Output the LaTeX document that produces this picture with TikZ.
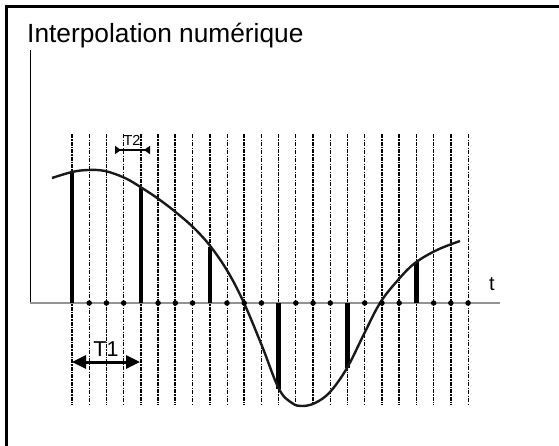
\documentclass[tikz,border=0pt]{standalone}
\usepackage{fontspec}
\setmainfont{Liberation Sans}
\usetikzlibrary{arrows.meta}
\begin{document}
\begin{tikzpicture}[x=1pt,y=-1pt,
  framestyle/.style={line width=3pt,black},
  heavyd/.style={line width=1.7pt,dash pattern=on 4pt off 1pt on 1.5pt off 1pt},
  thind/.style={line width=0.9pt,dash pattern=on 4pt off 1.5pt on 1pt off 1.5pt},
  axisline/.style={line width=1.6pt,gray!85},
  yaxis/.style={line width=1pt,black},
  sample/.style={line width=4.5pt,line cap=butt},
  curvestyle/.style={line width=2.4pt,black!90},
  dotstyle/.style={circle,fill=black,inner sep=0pt,minimum size=5.5pt},
  lbl/.style={inner sep=0pt,text=black}]
\useasboundingbox (0,0) rectangle (559,445);
\clip (0,0) rectangle (559,445);
\draw[framestyle] (6.5,450) -- (6.5,6.5) -- (565,6.5);
\node[lbl,anchor=base west,font=\fontsize{26.3}{30}\selectfont] (title) at (27,42) {Interpolation numérique};
% sampling grid
\foreach \i/\s in {0/heavyd,1/thind,2/heavyd,3/thind,4/heavyd,5/heavyd,6/heavyd,7/thind,8/heavyd,9/thind,10/heavyd,11/thind,12/heavyd,13/thind,14/heavyd,15/thind,16/heavyd,17/thind,18/heavyd,19/heavyd,20/heavyd,21/heavyd,22/heavyd,23/thind}{
  \coordinate (g\i t) at ({72+17.22*\i},134);
  \coordinate (g\i b) at ({72+17.22*\i},405);
  \draw[\s] (g\i t) -- (g\i b);
}
% axes
\coordinate (o) at (30,303);
\coordinate (ytop) at (30,50);
\coordinate (xend) at (500,303);
\draw[yaxis] (ytop) -- (o);
\draw[axisline] (o) -- (xend);
\node[lbl,font=\fontsize{20}{23}\selectfont] (tlabel) at (492,284) {t};
% samples
\foreach \i/\y in {0/172,4/188,8/247,12/389,16/368,20/262}{
  \coordinate (s\i a) at ({72+17.22*\i},303);
  \coordinate (s\i c) at ({72+17.22*\i},\y);
  \draw[sample] (s\i a) -- (s\i c);
}
% curve
\draw[curvestyle] plot[smooth,tension=0.6] coordinates {(52,178) (72,172) (88,170) (105,171) (125,178) (142,188) (160,200) (178,214) (195,229) (211,247) (228,272) (244,303) (262,346) (279,389) (292,403) (302,406) (315,403) (330,392) (347,368) (364,334) (380,303) (398,280) (415,263) (437,250) (460,241)};
% dots
\foreach \i in {1,2,3,5,6,7,9,10,11,13,14,15,17,18,19,21,22,23}{
  \node[dotstyle] (d\i) at ({72+17.22*\i},303) {};
}
% T2
\coordinate (t2a) at (115,150);
\coordinate (t2b) at (150,150);
\draw[line width=2pt,{Triangle[reversed,length=6pt,width=8pt]}-{Triangle[reversed,length=6pt,width=8pt]}] (t2a) -- (t2b);
\node[lbl,font=\fontsize{14.5}{16}\selectfont] (T2) at (132,140) {T2};
% T1
\coordinate (t1a) at (72,362);
\coordinate (t1b) at (140,362);
\draw[line width=3pt,{Triangle[length=14pt,width=13pt]}-{Triangle[length=14pt,width=13pt]}] (t1a) -- (t1b);
\node[lbl,font=\fontsize{21.5}{24}\selectfont] (T1) at (106,349) {T1};
\end{tikzpicture}
\end{document}
